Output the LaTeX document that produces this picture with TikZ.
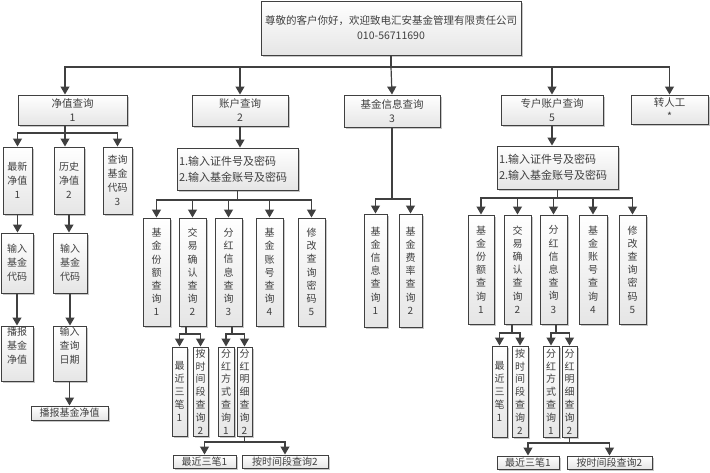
\documentclass[tikz,border=0pt]{standalone}
\usepackage{fontspec}
\setmainfont{Noto Sans CJK SC}
\usetikzlibrary{arrows.meta,shadows}
\definecolor{lncol}{HTML}{404040}
\definecolor{txcol}{HTML}{404040}
\tikzset{
  box/.style={draw=lncol, line width=1pt, top color=white, bottom color=black!10,
    drop shadow={shadow xshift=2pt,shadow yshift=-2pt,fill=black!22,opacity=1},
    inner sep=0pt, align=center, text=txcol, font=\fontsize{10}{13.2}\selectfont},
  lvone/.style={font=\fontsize{10.5}{14}\selectfont},
  leftcol/.style={font=\fontsize{10}{14}\selectfont},
  subcol/.style={font=\fontsize{10}{12.8}\selectfont},
  inbox/.style={align=left, text width=117pt, inner xsep=2pt, font=\fontsize{11}{16}\selectfont},
  txt/.style={inner sep=0pt, align=center, text=txcol, font=\fontsize{10}{14}\selectfont},
  wire/.style={draw=lncol, line width=1.2pt},
  arr/.style={draw=lncol, line width=1.2pt, -{Triangle[width=9pt,length=8pt]}},
}
\newcommand\bx[7][]{\node[box,#1,minimum width={#4-#3},minimum height={#6-#5}] (#2) at ({(#3+#4)/2},{(#5+#6)/2}) {#7};}
\begin{document}
\begin{tikzpicture}[x=1pt,y=-1pt]
\useasboundingbox (0,0) rectangle (710,472);
\fill[white] (0,0) rectangle (710,472);

% top
\bx[font=\fontsize{10.5}{15}\selectfont]{T}{261}{521}{1}{55}{尊敬的客户你好，欢迎致电汇安基金管理有限责任公司\\010-56711690}

% level 1
\bx[lvone]{jz}{18}{127}{95}{125}{净值查询\\1}
\bx[lvone]{zh}{192}{288}{95}{126}{账户查询\\2}
\bx[lvone]{jj}{344}{440}{95}{127}{基金信息查询\\3}
\bx[lvone]{zz}{501}{603}{95}{125}{专户账户查询\\5}
\bx[lvone]{zr}{631}{708}{95}{124}{转人工\\*}

% left column
\bx[leftcol]{a1}{3}{32}{147}{214}{最新\\净值\\1}
\bx[leftcol]{a2}{54}{84}{147}{214}{历史\\净值\\2}
\bx[leftcol]{a3}{103}{132}{147}{214}{查询\\基金\\代码\\3}
\bx[leftcol]{b1}{1}{33}{233}{293}{输入\\基金\\代码}
\bx[leftcol]{b2}{53}{87}{233}{293}{输入\\基金\\代码}
\bx{c1}{1}{33}{326}{381}{}
\bx{c2}{53}{86}{326}{381}{}
\node[txt, anchor=north] (c1t) at ([yshift=-1pt]c1.north) {播报\\基金\\净值};
\node[txt, anchor=north] (c2t) at ([yshift=-1pt]c2.north) {输入\\查询\\日期};
\bx{d}{31}{108}{406}{420}{播报基金净值}

% account query
\bx[inbox]{i1}{177}{298}{148}{190}{1.输入证件号及密码\\2.输入基金账号及密码}
\bx{e1}{143}{170}{218}{326}{基\\金\\份\\额\\查\\询\\1}
\bx{e2}{179}{206}{218}{326}{交\\易\\确\\认\\查\\询\\2}
\bx{e3}{215}{242}{218}{326}{分\\红\\信\\息\\查\\询\\3}
\bx{e4}{256}{283}{218}{326}{基\\金\\账\\号\\查\\询\\4}
\bx{e5}{298}{325}{218}{326}{修\\改\\查\\询\\密\\码\\5}
\bx[subcol]{f1}{172}{187}{347}{436}{最\\近\\三\\笔\\1}
\bx[subcol]{f2}{193}{208}{347}{436}{按\\时\\间\\段\\查\\询\\2}
\bx[subcol]{f3}{218}{234}{347}{436}{分\\红\\方\\式\\查\\询\\1}
\bx[subcol]{f4}{237}{252}{347}{436}{分\\红\\明\\细\\查\\询\\2}
\bx{g1}{173}{236}{455}{468}{最近三笔1}
\bx{g2}{242}{328}{455}{468}{按时间段查询2}

% fund info
\bx{h1}{364}{387}{214}{327}{基\\金\\信\\息\\查\\询\\1}
\bx{h2}{399}{422}{214}{327}{基\\金\\费\\率\\查\\询\\2}

% special account
\bx[inbox]{i2}{497}{618}{146}{189}{1.输入证件号及密码\\2.输入基金账号及密码}
\bx{k1}{468}{494}{215}{324}{基\\金\\份\\额\\查\\询\\1}
\bx{k2}{504}{531}{215}{324}{交\\易\\确\\认\\查\\询\\2}
\bx{k3}{540}{567}{215}{324}{分\\红\\信\\息\\查\\询\\3}
\bx{k4}{579}{607}{215}{324}{基\\金\\账\\号\\查\\询\\4}
\bx{k5}{619}{646}{215}{324}{修\\改\\查\\询\\密\\码\\5}
\bx[subcol]{m1}{492}{507}{346}{437}{最\\近\\三\\笔\\1}
\bx[subcol]{m2}{512}{528}{346}{437}{按\\时\\间\\段\\查\\询\\2}
\bx[subcol]{m3}{543}{559}{346}{437}{分\\红\\方\\式\\查\\询\\1}
\bx[subcol]{m4}{562}{577}{346}{437}{分\\红\\明\\细\\查\\询\\2}
\bx{n1}{497}{559}{456}{469}{最近三笔1}
\bx{n2}{567}{652}{456}{469}{按时间段查询2}

% connectors: top level
\coordinate (j0) at (391,67);
\draw[wire] (T.south) -- (j0);
\draw[arr] (j0) -| ([xshift=-7.5pt]jz.north);
\draw[arr] (j0) -| (zh.north);
\draw[arr] (j0) -- (jj.north);
\draw[arr] (j0) -| (zz.north);
\draw[arr] (j0) -| (zr.north);

% left column
\coordinate (j1) at (65,133);
\draw[wire] ([xshift=-7.5pt]jz.south) -- (j1);
\draw[arr] (j1) -| (a1.north);
\draw[arr] (j1) -- (a2.north -| j1);
\draw[arr] (j1) -| (a3.north);
\draw[arr] (a1.south) -- (b1.north -| a1.south);
\draw[arr] (a2.south) -- (b2.north -| a2.south);
\draw[arr] (b1.south) -- (c1.north -| b1.south);
\draw[arr] (b2.south) -- (c2.north -| b2.south);
\draw[arr] (c2.south) -- (d.north -| c2.south);

% account
\draw[arr] (zh.south) -- (i1.north -| zh.south);
\coordinate (j2) at (237.5,200);
\draw[wire] (i1.south) -- (j2);
\foreach \n in {e1,e2,e3,e4,e5} \draw[arr] (j2) -| (\n.north);
\coordinate (j3) at (186,334);
\draw[wire] (e2.south -| j3) -- (j3);
\draw[arr] (j3) -| (f1.north);
\draw[arr] (j3) -| (f2.north);
\coordinate (j4) at (232,334);
\draw[wire] (e3.south -| j4) -- (j4);
\draw[arr] (j4) -| (f3.north);
\draw[arr] (j4) -| (f4.north);
\coordinate (j5) at (244.5,442);
\draw[wire] (f4.south) -- (j5);
\draw[arr] (j5) -| (g1.north);
\draw[arr] (j5) -| (g2.north);

% fund info
\coordinate (j6) at (392,199);
\draw[wire] (jj.south) -- (j6);
\draw[arr] (j6) -| (h1.north);
\draw[arr] (j6) -| (h2.north);

% special account
\draw[arr] (zz.south) -- (i2.north -| zz.south);
\coordinate (j7) at (557.5,198);
\draw[wire] (i2.south) -- (j7);
\foreach \n in {k1,k2,k3,k4,k5} \draw[arr] (j7) -| (\n.north);
\coordinate (j8) at (512,333);
\draw[wire] (k2.south -| j8) -- (j8);
\draw[arr] (j8) -| (m1.north);
\draw[arr] (j8) -| (m2.north);
\coordinate (j9) at (556,333);
\draw[wire] (k3.south -| j9) -- (j9);
\draw[arr] (j9) -| (m3.north);
\draw[arr] (j9) -| (m4.north);
\coordinate (j10) at (569.5,443);
\draw[wire] (m4.south) -- (j10);
\draw[arr] (j10) -| (n1.north);
\draw[arr] (j10) -| (n2.north);
\end{tikzpicture}
\end{document}
